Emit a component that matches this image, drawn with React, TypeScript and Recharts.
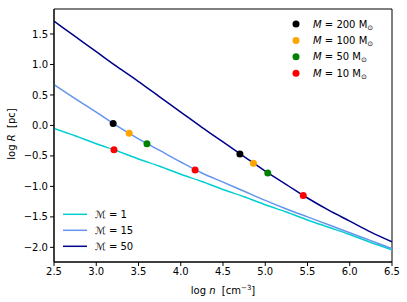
import React from "react";
import {
  ComposedChart,
  Line,
  Scatter,
  XAxis,
  YAxis,
  ReferenceArea,
} from "recharts";

// log n grid the curves are read at
const logN = [2.5, 2.75, 3.0, 3.25, 3.5, 3.75, 4.0, 4.25, 4.5, 4.75, 5.0, 5.25, 5.5, 5.75, 6.0, 6.25, 6.5];

// log R for each Mach number
const rMach1 = [-0.05, -0.17, -0.3, -0.42, -0.55, -0.67, -0.8, -0.92, -1.05, -1.17, -1.3, -1.42, -1.55, -1.67, -1.79, -1.92, -2.04];
const rMach15 = [0.67, 0.44, 0.22, -0.01, -0.22, -0.41, -0.6, -0.78, -0.93, -1.08, -1.23, -1.37, -1.5, -1.63, -1.76, -1.89, -2.02];
const rMach50 = [1.71, 1.46, 1.21, 0.96, 0.72, 0.47, 0.22, -0.03, -0.27, -0.51, -0.75, -0.97, -1.19, -1.39, -1.57, -1.75, -1.91];

const machLabels = ["1", "15", "50"];
const machColors = ["#00CED1", "#6495ED", "#00008B"];

// cluster masses and where they sit
const massLabels = ["200", "100", "50", "10"];
const massColors = ["#000000", "#FFA500", "#008000", "#FF0000"];
const massX = [
  [3.2, 4.7],
  [3.39, 4.86],
  [3.6, 5.03],
  [3.21, 4.17, 5.45],
];
const massY = [
  [0.03, -0.47],
  [-0.13, -0.62],
  [-0.3, -0.78],
  [-0.4, -0.73, -1.15],
];

const xTicks = [2.5, 3.0, 3.5, 4.0, 4.5, 5.0, 5.5, 6.0, 6.5];
const yTicks = [-2.0, -1.5, -1.0, -0.5, 0.0, 0.5, 1.0, 1.5];
const xDomain = [2.5, 6.5];
const yDomain = [-2.24, 1.91];

const FONT = "DejaVu Sans, sans-serif";

const lines = [rMach1, rMach15, rMach50].map((ys) =>
  logN.map((x, i) => ({ x, y: ys[i] }))
);
const points = massX.map((xs, k) => xs.map((x, i) => ({ x, y: massY[k][i] })));

const fmt = (v: number) => v.toFixed(1).replace("-", "\u2212");

export default function App() {
  return (
    <div style={{ position: "absolute", left: 0, top: 0, width: 407, height: 302, background: "#fff" }}>
      <ComposedChart
        width={407}
        height={302}
        margin={{ top: 9, right: 15, bottom: 10, left: 0 }}
        style={{ fontFamily: FONT }}
      >
        <XAxis
          dataKey="x"
          type="number"
          domain={xDomain}
          ticks={xTicks}
          tickFormatter={fmt}
          allowDataOverflow
          height={30}
          tickSize={4}
          tickMargin={2}
          stroke="#000"
          tick={{ fill: "#000", fontSize: 10 }}
          label={{
            content: () => (
              <text x={223} y={294} textAnchor="middle" fontSize={10} fill="#000">
                <tspan>log</tspan>
                <tspan fontStyle="italic">{"\u00a0n"}</tspan>
                <tspan>{"\u00a0\u00a0[cm"}</tspan>
                <tspan dy={-4} fontSize={7}>{"\u22123"}</tspan>
                <tspan dy={4}>]</tspan>
              </text>
            ),
          }}
        />
        <YAxis
          dataKey="y"
          type="number"
          domain={yDomain}
          ticks={yTicks}
          tickFormatter={fmt}
          allowDataOverflow
          width={54}
          tickSize={4}
          tickMargin={2}
          stroke="#000"
          tick={{ fill: "#000", fontSize: 10 }}
          label={{
            content: () => (
              <text x={15} y={134} textAnchor="middle" fontSize={10} fill="#000" transform="rotate(-90 15 134)">
                <tspan>log</tspan>
                <tspan fontStyle="italic">{"\u00a0R"}</tspan>
                <tspan>{"\u00a0\u00a0[pc]"}</tspan>
              </text>
            ),
          }}
        />
        <ReferenceArea
          x1={xDomain[0]}
          x2={xDomain[1]}
          y1={yDomain[0]}
          y2={yDomain[1]}
          fill="none"
          fillOpacity={0}
          stroke="#000"
          strokeWidth={1}
          ifOverflow="visible"
        />
        {lines.map((d, i) => (
          <Line
            key={`m${i}`}
            data={d}
            dataKey="y"
            type="monotone"
            stroke={machColors[i]}
            strokeWidth={1.5}
            dot={false}
            activeDot={false}
            isAnimationActive={false}
          />
        ))}
        {points.map((d, k) => (
          <Scatter
            key={`p${k}`}
            data={d}
            dataKey="y"
            fill={massColors[k]}
            shape={(p: any) => <circle cx={p.cx} cy={p.cy} r={3.5} fill={massColors[k]} />}
            isAnimationActive={false}
          />
        ))}
      </ComposedChart>
      <svg width={407} height={302} style={{ position: "absolute", left: 0, top: 0, pointerEvents: "none", fontFamily: FONT }}>
        {massLabels.map((m, i) => (
          <g key={m}>
            <circle cx={296} cy={24 + i * 16.4} r={3.5} fill={massColors[i]} />
            <text x={313} y={24 + i * 16.4 + 3.6} fontSize={10} fill="#000">
              <tspan fontStyle="italic">M</tspan>
              <tspan>{`\u00a0=\u00a0${m}\u00a0M`}</tspan>
              <tspan dy={2} fontSize={7}>{"\u2299"}</tspan>
            </text>
          </g>
        ))}
        {machLabels.map((m, i) => (
          <g key={m}>
            <line x1={63} x2={87} y1={214.3 + i * 16} y2={214.3 + i * 16} stroke={machColors[i]} strokeWidth={1.5} />
            <text x={95} y={214.3 + i * 16 + 3.6} fontSize={10} fill="#000">
              <tspan fontStyle="italic">{"\u2133"}</tspan>
              <tspan>{`\u00a0=\u00a0${m}`}</tspan>
            </text>
          </g>
        ))}
      </svg>
    </div>
  );
}
